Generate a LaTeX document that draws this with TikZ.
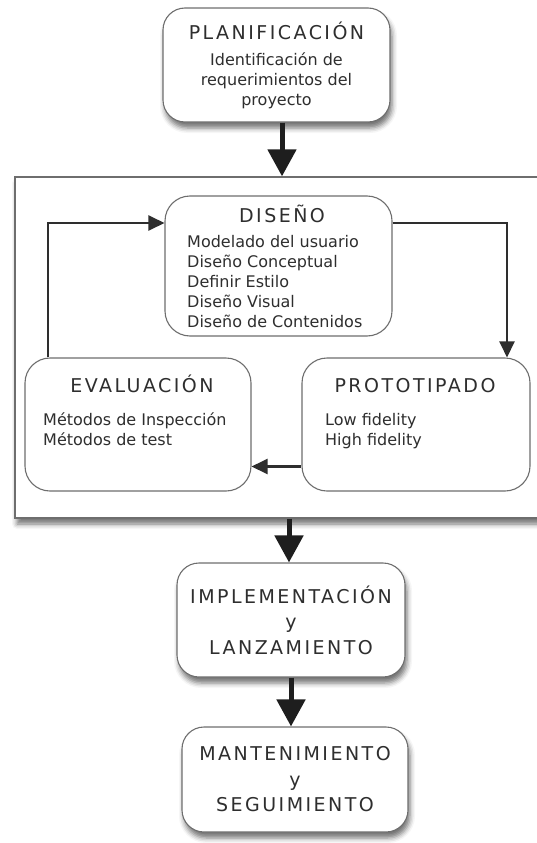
\documentclass[tikz,border=0pt]{standalone}
\usepackage{fontspec}
\setmainfont{DejaVu Sans}
\newfontfamily\titlefont[LetterSpace=13]{DejaVu Sans}
\usetikzlibrary{arrows.meta,shadows.blur}
\definecolor{bordegris}{HTML}{6E6E6E}
\definecolor{textogris}{HTML}{2E2E2E}
\definecolor{flechanegra}{HTML}{1E1E1E}
\tikzset{
  fase/.style={draw=bordegris, line width=1.1pt, rounded corners=22pt, fill=white, inner sep=0pt},
  sombra/.style={blur shadow={shadow xshift=2pt, shadow yshift=-6pt, shadow blur radius=5pt, shadow opacity=55}},
  titulo/.style={font=\titlefont\fontsize{19}{25.5}\selectfont, text=textogris},
  cuerpo/.style={font=\fontsize{16}{20}\selectfont, text=textogris},
  flechagrande/.style={draw=flechanegra, line width=5pt, -{Triangle[width=28pt,length=27pt]}},
  flecha/.style={draw=textogris, line width=2.4pt, -{Triangle[width=15pt,length=16pt]}},
}

\begin{document}
\begin{tikzpicture}[x=1pt,y=-1pt]
\useasboundingbox (0,0) rectangle (537,843);

\node[fase, sombra, minimum width=227pt, minimum height=114pt, align=center, cuerpo] (plan) at (276.5,65)
  {{\titlefont\fontsize{19}{25.5}\selectfont PLANIFICACIÓN}\\[6pt]Identificación de\\requerimientos del\\proyecto};

\node[draw=bordegris, line width=1.3pt, fill=white, sombra, inner sep=0pt,
  minimum width=545pt, minimum height=341pt] (iter) at (287.5,347.5) {};

\node[fase, rounded corners=25pt, minimum width=227pt, minimum height=140pt] (dis) at (278.5,266) {};
\node[titulo, anchor=base] (dis-tit) at (282,222) {DISEÑO};
\node[cuerpo, anchor=north west, align=left, inner sep=0pt] (dis-lista) at (187,235)
  {Modelado del usuario\\Diseño Conceptual\\Definir Estilo\\Diseño Visual\\Diseño de Contenidos};

\node[fase, rounded corners=25pt, minimum width=226pt, minimum height=133pt] (eval) at (138,424.5) {};
\node[titulo, anchor=base] (eval-tit) at (142,392) {EVALUACIÓN};
\node[cuerpo, anchor=north west, align=left, inner sep=0pt] (eval-lista) at (43,412.5)
  {Métodos de Inspección\\Métodos de test};

\node[fase, rounded corners=25pt, minimum width=228pt, minimum height=133pt] (proto) at (416,424.5) {};
\node[titulo, anchor=base] (proto-tit) at (415,392) {PROTOTIPADO};
\node[cuerpo, anchor=north west, align=left, inner sep=0pt] (proto-lista) at (325,413)
  {Low fidelity\\High fidelity};

\node[fase, sombra, minimum width=228pt, minimum height=114pt, align=center, titulo] (impl) at (291,620)
  {IMPLEMENTACIÓN\\y\\LANZAMIENTO};
\node[fase, sombra, minimum width=226pt, minimum height=105pt, align=center, titulo] (mant) at (295,779.5)
  {MANTENIMIENTO\\y\\SEGUIMIENTO};

\coordinate (entrada) at (282,0);
\coordinate (salida) at (289,0);
\coordinate (lazo-izq) at (48,223);
\coordinate (lazo-der) at (507,223);

\draw[flechagrande] (plan.south -| entrada) -- (iter.north -| entrada);
\draw[flechagrande] (iter.south -| salida) -- (impl.north -| salida);
\draw[flechagrande] (impl.south) -- (impl.south |- mant.north);

\draw[flecha] (eval.north -| lazo-izq) -- (lazo-izq) -- (lazo-izq -| dis.west);
\draw[flecha] (lazo-der -| dis.east) -- (lazo-der) -- (proto.north -| lazo-der);
\draw[flecha] ([yshift=-42pt]proto.west) -- ([yshift=-42pt]eval.east);
\end{tikzpicture}
\end{document}
